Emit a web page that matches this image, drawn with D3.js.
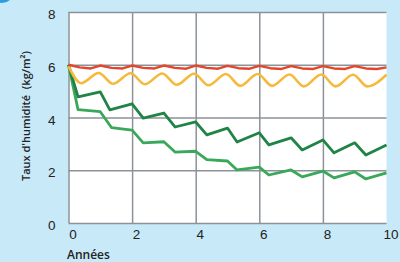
<!DOCTYPE html>
<html>
<head>
<meta charset="utf-8">
<script src="https://cdn.jsdelivr.net/npm/d3@7"></script>
<style>
  html, body { margin: 0; padding: 0; background: #c8e9f8; }
  svg { display: block; font-family: "Open Sans", sans-serif; }
  .tick text { fill: #222; font-size: 13.5px; }
  .grid line { stroke: #8d9298; stroke-width: 1.5; }
  .grid path { display: none; }
</style>
</head>
<body>
<div id="chart"></div>
<script>
// tick values for the two axes
const xTicks = [0, 2, 4, 6, 8, 10];
const yTicks = [0, 2, 4, 6, 8];

// each curve as [année, taux] pairs
const redPts = [[0,6.0],[0.35,5.9],[0.7,5.86],[1,5.97],[1.35,5.88],[1.7,5.86],[2,5.97],[2.35,5.88],[2.7,5.86],
  [3,5.97],[3.35,5.88],[3.7,5.85],[4,5.97],[4.35,5.88],[4.7,5.85],[5,5.96],[5.35,5.87],[5.7,5.85],
  [6,5.96],[6.35,5.87],[6.7,5.84],[7,5.95],[7.35,5.86],[7.7,5.84],[8,5.95],[8.35,5.86],[8.7,5.84],
  [9,5.95],[9.35,5.86],[9.7,5.84],[10,5.9]];
const orangePts = [[0,5.95],[0.4,5.3],[0.95,5.69],[1.4,5.28],[1.95,5.68],[2.4,5.26],[2.95,5.67],[3.4,5.24],
  [3.95,5.66],[4.4,5.22],[4.95,5.65],[5.4,5.2],[5.95,5.65],[6.4,5.2],[6.95,5.63],[7.4,5.18],[7.95,5.63],
  [8.4,5.18],[8.95,5.62],[9.4,5.18],[10,5.62]];
const darkGreenPts = [[0,6.0],[0.3,4.78],[1,4.97],[1.3,4.29],[2,4.52],[2.35,3.98],[3,4.17],[3.35,3.64],
  [4,3.83],[4.35,3.34],[5,3.6],[5.3,3.07],[6,3.42],[6.3,2.96],[7,3.23],[7.35,2.77],[8,3.15],[8.35,2.66],
  [9,3.04],[9.35,2.58],[10,2.96]];
const lightGreenPts = [[0,6.0],[0.3,4.3],[1,4.22],[1.35,3.62],[2,3.52],[2.35,3.04],[3,3.08],[3.35,2.69],
  [4,2.72],[4.35,2.4],[5,2.35],[5.3,2.01],[6,2.12],[6.3,1.82],[7,2.01],[7.35,1.75],[8,1.97],[8.35,1.71],
  [9,1.94],[9.35,1.67],[10,1.9]];

const W = 400, H = 262;
const svg = d3.select("#chart").append("svg").attr("width", W).attr("height", H);

// little blue badge poking in at the top-left corner
svg.append("circle").attr("cx", 2).attr("cy", -9).attr("r", 12).attr("fill", "#2a9de0");

const x = d3.scaleLinear().domain([0, 10]).range([68.5, 386.5]);
const y = d3.scaleLinear().domain([0, 8]).range([223, 12]);

// white plot area
svg.append("rect")
  .attr("x", x(0)).attr("y", y(8))
  .attr("width", x(10) - x(0)).attr("height", y(0) - y(8))
  .attr("fill", "#fff");

// grid lines (no line at 10)
svg.append("g").attr("class", "grid")
  .attr("transform", `translate(0,${y(0)})`)
  .call(d3.axisBottom(x).tickValues(xTicks.slice(0, -1)).tickSize(-(y(0) - y(8))).tickFormat(""));
svg.append("g").attr("class", "grid")
  .attr("transform", `translate(${x(0)},0)`)
  .call(d3.axisLeft(y).tickValues(yTicks).tickSize(-(x(10) - x(0))).tickFormat(""));

// tick labels
const ax = svg.append("g").attr("transform", `translate(4,${y(0)})`)
  .call(d3.axisBottom(x).tickValues(xTicks).tickSize(0).tickPadding(6));
ax.select(".domain").remove();
const ay = svg.append("g").attr("transform", `translate(${x(0)},4)`)
  .call(d3.axisLeft(y).tickValues(yTicks).tickSize(0).tickPadding(13));
ay.select(".domain").remove();
ay.selectAll("text").attr("dy", "0.2em");

// curves
const line = d3.line().x(d => x(d[0])).y(d => y(d[1]));
const series = [
  { pts: lightGreenPts, color: "#3aa85a", curve: d3.curveLinear, sw: 2.8 },
  { pts: darkGreenPts, color: "#1f8446", curve: d3.curveLinear, sw: 2.8 },
  { pts: orangePts, color: "#f5b93c", curve: d3.curveMonotoneX, sw: 2.6 },
  { pts: redPts, color: "#e2462c", curve: d3.curveLinear, sw: 2.4 }
];
series.forEach(s => {
  svg.append("path")
    .attr("d", line.curve(s.curve)(s.pts))
    .attr("fill", "none")
    .attr("stroke", s.color)
    .attr("stroke-width", s.sw)
    .attr("stroke-linejoin", "round");
});

// axis titles
svg.append("text")
  .attr("x", 67).attr("y", 259)
  .attr("font-size", 12).attr("font-weight", 600).attr("fill", "#222")
  .text("Années");
svg.append("text")
  .attr("transform", "translate(30,116) rotate(-90)")
  .attr("text-anchor", "middle")
  .attr("font-size", 11).attr("font-weight", 600).attr("fill", "#222")
  .attr("xml:space", "preserve")
  .text("Taux d'humidité  (kg/m²)");
</script>
</body>
</html>
